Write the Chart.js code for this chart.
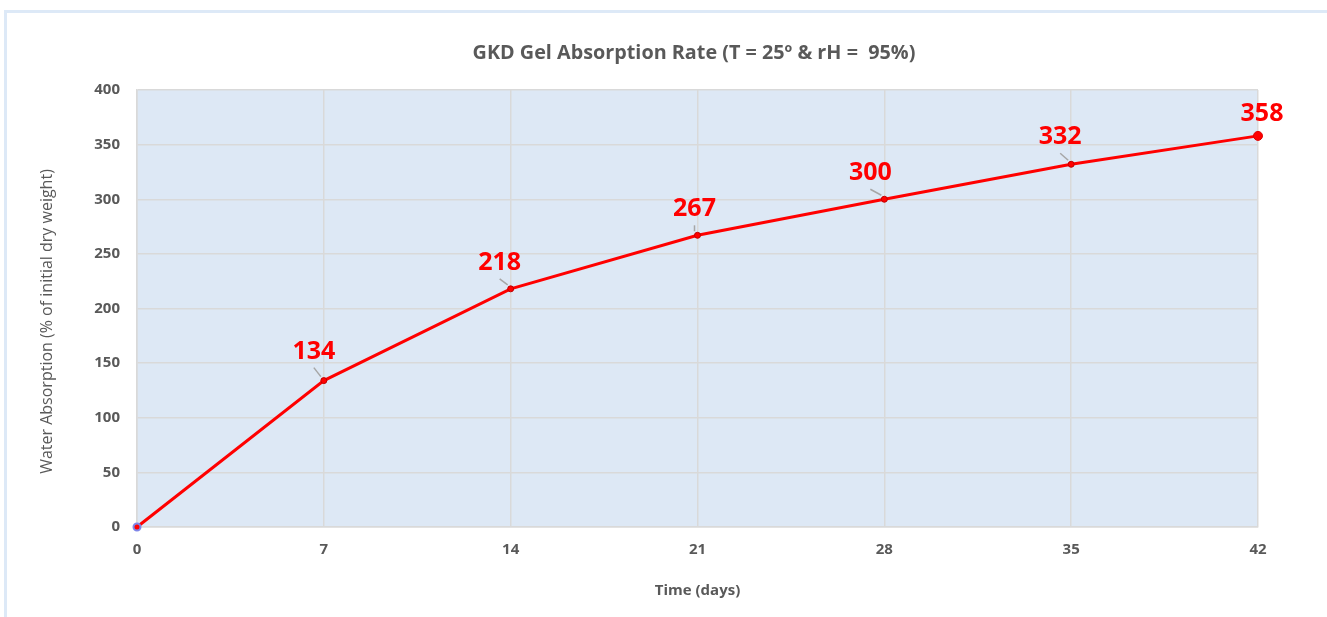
<!DOCTYPE html>
<html lang="en">
<head>
  <meta charset="UTF-8">
  <title>GKD Gel Absorption Rate</title>
  <style>
    body {
      margin: 0;
      background: #ffffff;
      font-family: 'Open Sans', sans-serif;
    }

    .frame {
      position: absolute;
      left: 4px;
      top: 10px;
      width: 1330px;
      height: 640px;
      border: 3px solid #dde9f7;
    }

    .chart-title {
      position: absolute;
      left: 344px;
      width: 700px;
      top: 38px;
      text-align: center;
      white-space: pre;
      font-size: 19.8px;
      font-weight: bold;
      color: #595959;
    }

    .chart-box {
      position: absolute;
      left: 0;
      top: 0;
      width: 1327px;
      height: 617px;
    }
  </style>
</head>
<body>
  <div class="frame"></div>
  <div class="chart-box">
    <canvas id="absorption-chart"></canvas>
  </div>
  <div class="chart-title">GKD Gel Absorption Rate (T = 25º &amp; rH =  95%)</div>

  <script src="https://cdn.jsdelivr.net/npm/chart.js"></script>
  <script>
    // data
    const days = [0, 7, 14, 21, 28, 35, 42];
    const absorption = [0, 134, 218, 267, 300, 332, 358];
    const yTicks = [0, 50, 100, 150, 200, 250, 300, 350, 400];

    // where each value label sits relative to its point (first point has none)
    const labelDx = [null, -10, -11, -3, -14, -11, 4];
    const labelDy = [null, -29, -26, -26, -26, -27, -22];
    const leader = [false, true, true, true, true, true, false];

    const gray = '#595959';

    // light blue plot background
    const plotBackground = {
      id: 'plotBackground',
      beforeDraw(chart) {
        const { ctx, chartArea: a } = chart;
        ctx.save();
        ctx.fillStyle = '#dde8f5';
        ctx.fillRect(a.left, a.top, a.right - a.left, a.bottom - a.top);
        ctx.restore();
      }
    };

    // y axis title, sitting a little below the middle like the original
    const yAxisTitle = {
      id: 'yAxisTitle',
      afterDraw(chart) {
        const { ctx, chartArea: a } = chart;
        ctx.save();
        ctx.translate(47, (a.top + a.bottom) / 2 + 13);
        ctx.rotate(-Math.PI / 2);
        ctx.fillStyle = gray;
        ctx.font = '16px "Open Sans", sans-serif';
        ctx.textAlign = 'center';
        ctx.textBaseline = 'middle';
        ctx.fillText('Water Absorption (% of initial dry weight)', 0, 0);
        ctx.restore();
      }
    };

    // red value labels with small grey leader lines
    const valueLabels = {
      id: 'valueLabels',
      afterDatasetsDraw(chart) {
        const { ctx } = chart;
        const meta = chart.getDatasetMeta(0);
        ctx.save();
        meta.data.forEach((pt, i) => {
          if (labelDx[i] === null) return;
          const lx = pt.x + labelDx[i];
          const ly = pt.y + labelDy[i];
          if (leader[i]) {
            ctx.strokeStyle = '#a6a6a6';
            ctx.lineWidth = 1.5;
            ctx.beginPath();
            ctx.moveTo(lx, ly + 16);
            ctx.lineTo(pt.x - 3, pt.y - 4);
            ctx.stroke();
          }
          ctx.fillStyle = '#ff0000';
          ctx.font = 'bold 25px "Open Sans", sans-serif';
          ctx.textAlign = 'center';
          ctx.textBaseline = 'middle';
          ctx.fillText(String(absorption[i]), lx, ly);
        });
        ctx.restore();
      }
    };

    const ctx = document.getElementById('absorption-chart').getContext('2d');
    new Chart(ctx, {
      type: 'line',
      data: {
        datasets: [{
          data: days.map((d, i) => ({ x: d, y: absorption[i] })),
          clip: false,
          borderColor: '#ff0000',
          borderWidth: 3,
          backgroundColor: '#ff0000',
          pointBackgroundColor: '#ff0000',
          pointBorderColor: ['#7f86e8', '#c00000', '#c00000', '#c00000', '#c00000', '#c00000', '#e00000'],
          pointBorderWidth: [2, 1, 1, 1, 1, 1, 1],
          pointRadius: [3.5, 3, 3, 3, 3, 3, 4.5],
          tension: 0
        }]
      },
      options: {
        responsive: true,
        maintainAspectRatio: false,
        animation: false,
        layout: {
          padding: { left: 38, right: 69, top: 90, bottom: 17 }
        },
        plugins: {
          legend: { display: false },
          tooltip: { enabled: false }
        },
        scales: {
          x: {
            type: 'linear',
            min: 0,
            max: 42,
            afterBuildTicks(scale) {
              scale.ticks = days.map(v => ({ value: v }));
            },
            afterFit(scale) {
              scale.height = 73;
            },
            grid: { color: '#d9d9d9', lineWidth: 1.5, drawTicks: false },
            border: { color: '#d9d9d9', width: 1.5 },
            ticks: {
              padding: 14,
              color: gray,
              font: { family: 'Open Sans', size: 15, weight: 'bold' }
            },
            title: {
              display: true,
              text: 'Time (days)',
              color: gray,
              padding: 0,
              font: { family: 'Open Sans', size: 15, weight: 'bold' }
            }
          },
          y: {
            min: 0,
            max: 400,
            afterBuildTicks(scale) {
              scale.ticks = yTicks.map(v => ({ value: v }));
            },
            afterFit(scale) {
              scale.width = 99;
            },
            grid: { color: '#d9d9d9', lineWidth: 1.5, drawTicks: false },
            border: { color: '#d9d9d9', width: 1.5 },
            ticks: {
              padding: 17,
              color: gray,
              font: { family: 'Open Sans', size: 15, weight: 'bold' }
            }
          }
        }
      },
      plugins: [plotBackground, yAxisTitle, valueLabels]
    });
  </script>
</body>
</html>
